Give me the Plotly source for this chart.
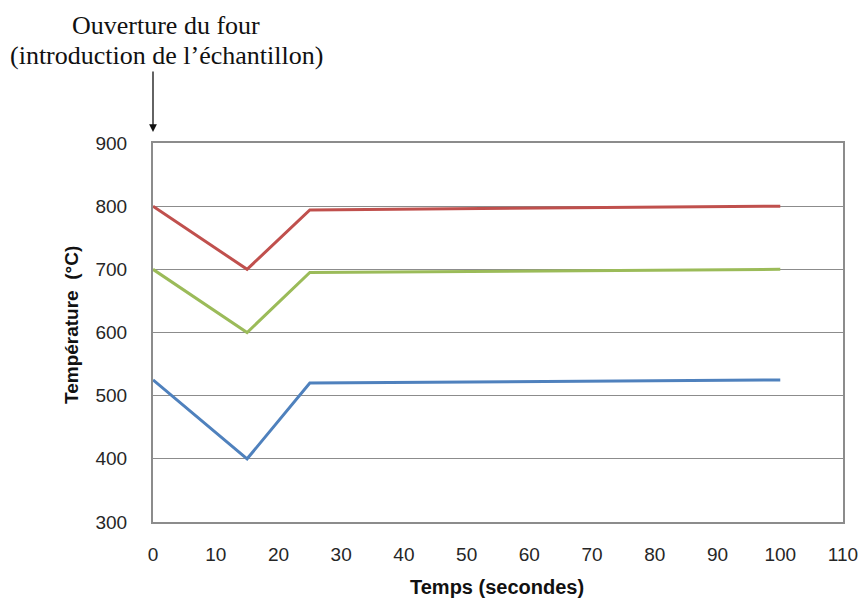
import plotly.graph_objects as go

temps = [0, 15, 25, 100]
rouge = [800, 700, 794, 800]
vert = [700, 600, 695, 700]
bleu = [525, 400, 520, 525]

x_ticks = [0, 10, 20, 30, 40, 50, 60, 70, 80, 90, 100, 110]
y_ticks = [300, 400, 500, 600, 700, 800, 900]

W, H = 863, 598
L, R, T, B = 153, 20, 143, 76
PW, PH = W - L - R, H - T - B

fig = go.Figure()
for vals, col in [(rouge, "#C0504D"), (vert, "#9BBB59"), (bleu, "#4F81BD")]:
    fig.add_trace(go.Scatter(x=temps, y=vals, mode="lines",
                             line=dict(color=col, width=3), showlegend=False))

fig.update_layout(
    width=W, height=H,
    margin=dict(l=L, r=R, t=T, b=B, autoexpand=False),
    paper_bgcolor="white", plot_bgcolor="white",
    font=dict(family="Liberation Sans", size=19, color="#262626"),
    xaxis=dict(range=[0, 110], tickvals=x_ticks, showgrid=False, automargin=False,
               showline=True, linecolor="#8c8c8c", linewidth=2, mirror=True,
               zeroline=False, ticks="", ticklabelstandoff=14),
    yaxis=dict(range=[300, 900], tickvals=y_ticks, showgrid=True, automargin=False,
               gridcolor="#8c8c8c", gridwidth=1,
               showline=True, linecolor="#8c8c8c", linewidth=2, mirror=True,
               zeroline=False, ticks="", ticklabelstandoff=20),
)

def px_x(p):
    return (p - L) / PW

def px_y(p):
    return 1 - (p - T) / PH

# axis titles
fig.add_annotation(xref="paper", yref="paper", x=px_x(497), y=px_y(587),
                   text="<b>Temps (secondes)</b>", showarrow=False,
                   xanchor="center", yanchor="middle",
                   font=dict(size=20, color="#111111"))
fig.add_annotation(xref="paper", yref="paper", x=px_x(71), y=px_y(325),
                   text="<b>Température  (°C)</b>", showarrow=False, textangle=-90,
                   xanchor="center", yanchor="middle",
                   font=dict(size=19, color="#111111"))

fig.add_annotation(xref="paper", yref="paper", x=px_x(153), y=px_y(132),
                   ax=0, ay=-62, axref="pixel", ayref="pixel",
                   text="", showarrow=True, arrowhead=2, arrowsize=1.2,
                   arrowwidth=1.3, arrowcolor="#111111")

for txt, yy in [("Ouverture du four", 25), ("(introduction de l\u2019échantillon)", 55)]:
    fig.add_annotation(xref="paper", yref="paper", x=px_x(166), y=px_y(yy),
                       text=txt, showarrow=False, yanchor="middle", xanchor="center",
                       font=dict(family="Liberation Serif", size=26, color="#111111"))

fig.write_html("out.html", config={"displayModeBar": False},
               post_script="document.body.style.margin='0';document.body.style.overflow='hidden';")
